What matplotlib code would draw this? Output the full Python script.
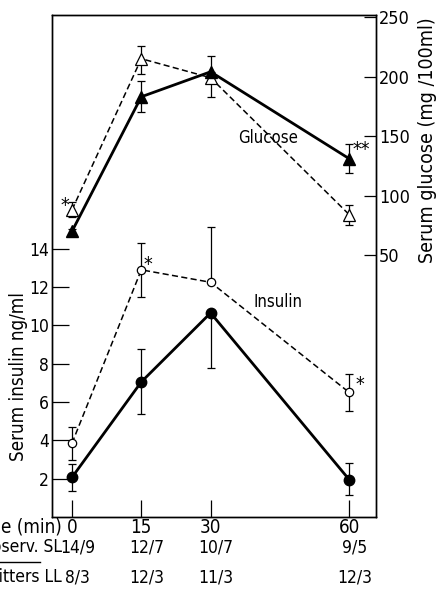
import numpy as np
import matplotlib
matplotlib.use('Agg')
from matplotlib import pyplot as plt
from matplotlib.lines import Line2D

plt.rcParams['font.family'] = ['DejaVu Sans']
plt.rcParams['font.stretch'] = 'condensed'

# time points (min)
times = [0, 15, 30, 60]

# insulin, ng/ml (left axis)
ins_open = [3.85, 12.9, 12.25, 6.5]
ins_open_up = [0.85, 1.4, 2.9, 0.95]
ins_open_dn = [0.85, 1.4, 0.0, 0.95]
ins_fill = [2.07, 7.05, 10.65, 1.95]
ins_fill_up = [0.7, 1.7, 0.0, 0.85]
ins_fill_dn = [0.7, 1.7, 2.85, 0.8]

# glucose, mg/100ml (right axis)
glu_open = [88, 215, 199, 84]
glu_open_up = [7, 11, 0, 8]
glu_open_dn = [6, 13, 16, 9]
glu_fill = [70, 183, 204, 131]
glu_fill_up = [2, 13, 13, 12]
glu_fill_dn = [2, 13, 0, 12]

# bottom table
n_sl = ['14/9', '12/7', '10/7', '9/5']
n_ll = ['8/3', '12/3', '11/3', '12/3']

fig = plt.figure(figsize=(4.39, 5.90), dpi=100)
ax = fig.add_axes([52/439, 1 - 517/590, 324/439, 502/590])
ax2 = ax.twinx()

ax.set_xlim(-4.33, 65.8)
ax.set_ylim(0, 26.2)
ax2.set_ylim(-170, 251.7)

ekw = dict(ecolor='black', elinewidth=0.9, capsize=2.8, capthick=0.9)

# glucose curves
ax2.errorbar(times, glu_open, yerr=[glu_open_dn, glu_open_up], fmt='none', **ekw)
ax2.errorbar(times, glu_fill, yerr=[glu_fill_dn, glu_fill_up], fmt='none', **ekw)
ax2.plot(times, glu_open, color='black', lw=1.1, ls=(0, (4, 2.2)), marker='^',
         ms=8, mfc='white', mec='black', mew=0.9, zorder=3)
ax2.plot(times, glu_fill, color='black', lw=2.0, ls='-', marker='^',
         ms=8, mfc='black', mec='black', zorder=4)

# insulin curves
ax.errorbar(times, ins_open, yerr=[ins_open_dn, ins_open_up], fmt='none', **ekw)
ax.errorbar(times, ins_fill, yerr=[ins_fill_dn, ins_fill_up], fmt='none', **ekw)
ax.plot(times, ins_open, color='black', lw=1.1, ls=(0, (4, 2.2)), marker='o',
        ms=6, mfc='white', mec='black', mew=0.9, zorder=3)
ax.plot(times, ins_fill, color='black', lw=2.0, ls='-', marker='o',
        ms=7.5, mfc='black', mec='black', zorder=4)

# labels inside
ax2.text(42.5, 148, 'Glucose', fontsize=12, ha='center', va='center')
ax.text(44.5, 11.2, 'Insulin', fontsize=12, ha='center', va='center')
ax2.text(-1.5, 92, '*', fontsize=14, ha='center', va='center')
ax2.text(62.5, 139, '**', fontsize=14, ha='center', va='center')
ax.text(16.5, 13.2, '*', fontsize=14, ha='center', va='center')
ax.text(62.3, 6.9, '*', fontsize=14, ha='center', va='center')

# ticks
ax.set_xticks(times)
ax.set_xticklabels(['0', '15', '30', '60'])
ax.set_yticks([2, 4, 6, 8, 10, 12, 14])
ax.tick_params(axis='x', direction='in', length=12, width=0.9, labelsize=13.5, pad=1)
ax.tick_params(axis='y', direction='in', length=12, width=0.9, labelsize=12.5, pad=2)
ax2.set_yticks([50, 100, 150, 200, 250])
ax2.tick_params(axis='y', direction='in', length=9, width=0.9, labelsize=13, pad=2)
for a in (ax, ax2):
    for s in a.spines.values():
        s.set_linewidth(1.0)

ax.set_ylabel('Serum insulin ng/ml', fontsize=13.5)
ax.yaxis.set_label_coords(-0.074, 0.279)
ax2.set_ylabel('Serum glucose (mg /100ml)', fontsize=14)
ax2.yaxis.set_label_coords(1.13, 0.751)

# table below axis (text cut at figure edge as in original)
fig.text(62/439, 1 - 527/590, 'Time (min)', fontsize=13.5, ha='right', va='center')
fig.text(62/439, 1 - 547/590, 'No. of observ. SL', fontsize=12.5, ha='right', va='center')
fig.text(62/439, 1 - 577/590, 'Litters LL', fontsize=12.5, ha='right', va='center')
fig.add_artist(Line2D([0, 40/439], [1 - 562/590, 1 - 562/590], color='black', lw=1))
trans = matplotlib.transforms.blended_transform_factory(ax.transData, fig.transFigure)
for t, a, b in zip(times, n_sl, n_ll):
    ax.text(t + 1.2, 1 - 547/590, a, fontsize=12.5, ha='center', va='center', transform=trans)
    ax.text(t + 1.2, 1 - 577/590, b, fontsize=12.5, ha='center', va='center', transform=trans)

plt.savefig('out.png', dpi=100)
